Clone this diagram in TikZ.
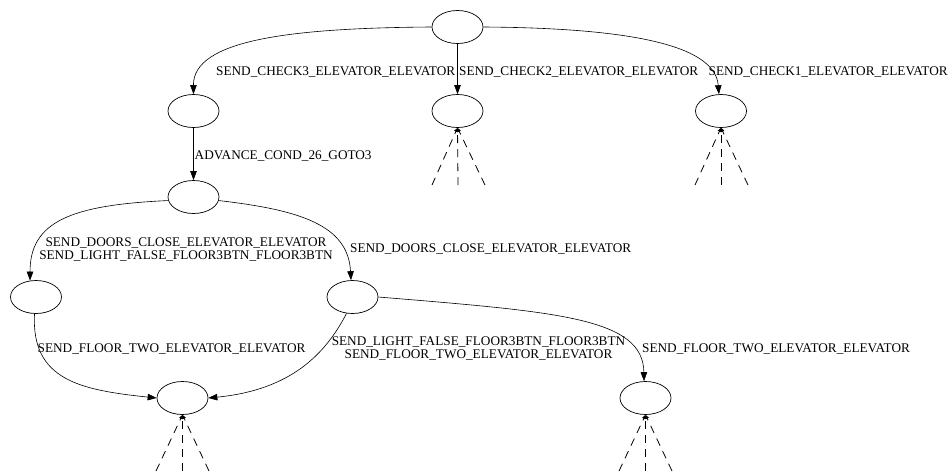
\documentclass[tikz,border=0pt]{standalone}
\usepackage{fontspec}
\setmainfont{Liberation Serif}
\usetikzlibrary{arrows.meta,shapes.geometric}
\begin{document}
\begin{tikzpicture}[x=1pt,y=-1pt,
  state/.style={draw,ellipse,line width=0.7pt,minimum width=51pt,minimum height=33pt,inner sep=0pt},
  edge/.style={line width=0.6pt,-{Triangle[length=9pt,width=6.5pt]}},
  fan/.style={line width=0.8pt,dash pattern=on 8pt off 6pt,-{Triangle[length=4pt,width=3.5pt]}},
  lbl/.style={font=\fontsize{13.25}{13}\selectfont,inner sep=0pt,anchor=base west},
  lblc/.style={font=\fontsize{13.25}{13}\selectfont,inner sep=0pt,anchor=base,align=center}]
\fill[white] (0,0) rectangle (949,471);
\useasboundingbox (0,0) rectangle (949,471);
% states
\node[state] (root) at (457.5,27) {};
\node[state] (A) at (193.5,111) {};
\node[state] (B) at (457.5,111) {};
\node[state] (C) at (721,111) {};
\node[state] (D) at (193.5,197) {};
\node[state] (E) at (36,297) {};
\node[state] (F) at (352.5,297) {};
\node[state] (G) at (182.5,398) {};
\node[state] (H) at (645.5,398) {};
% free ends of the dashed fans
\coordinate (b1) at (432,185); \coordinate (b2) at (458,185); \coordinate (b3) at (485,185);
\coordinate (c1) at (695,185); \coordinate (c2) at (721,185); \coordinate (c3) at (748,185);
\coordinate (g1) at (156,471); \coordinate (g2) at (182.5,471); \coordinate (g3) at (209,471);
\coordinate (h1) at (619,471); \coordinate (h2) at (645.5,471); \coordinate (h3) at (672,471);
% edges
\draw[edge] (root.west) .. controls (290,28) and (193,40) .. (A.north);
\draw[edge] (root) -- (B);
\draw[edge] (root.east) .. controls (630,28) and (715,45) .. (C.97);
\draw[edge] (A) -- (D);
\draw[edge] (D.188) .. controls (70,205) and (30,222) .. (E.110);
\draw[edge] (D.-8) .. controls (300,210) and (348,225) .. (F.95);
\draw[edge] (E.265) .. controls (31,380) and (80,390) .. (G.west);
\draw[edge] (F.250) .. controls (325,355) and (290,390) .. (G.east);
\draw[edge] (F.east) .. controls (560,312) and (643,318) .. (H.95);
% dashed fans
\draw[fan] (b1) -- (B.south); \draw[fan] (b2) -- (B.south); \draw[fan] (b3) -- (B.south);
\draw[fan] (c1) -- (C.south); \draw[fan] (c2) -- (C.south); \draw[fan] (c3) -- (C.south);
\draw[fan] (g1) -- (G.south); \draw[fan] (g2) -- (G.south); \draw[fan] (g3) -- (G.south);
\draw[fan] (h1) -- (H.south); \draw[fan] (h2) -- (H.south); \draw[fan] (h3) -- (H.south);
% labels
\node[lbl] (l1) at (216,75) {SEND\_CHECK3\_ELEVATOR\_ELEVATOR};
\node[lbl] (l2) at (459,75) {SEND\_CHECK2\_ELEVATOR\_ELEVATOR};
\node[lbl] (l3) at (708.5,75) {SEND\_CHECK1\_ELEVATOR\_ELEVATOR};
\node[lbl] (l4) at (194.5,159) {ADVANCE\_COND\_26\_GOTO3};
\node[lblc] (l5) at (186,259) {SEND\_DOORS\_CLOSE\_ELEVATOR\_ELEVATOR\\SEND\_LIGHT\_FALSE\_FLOOR3BTN\_FLOOR3BTN};
\node[lbl] (l6) at (350,252) {SEND\_DOORS\_CLOSE\_ELEVATOR\_ELEVATOR};
\node[lbl] (l7) at (37.5,352) {SEND\_FLOOR\_TWO\_ELEVATOR\_ELEVATOR};
\node[lblc] (l8) at (478.5,358.5) {SEND\_LIGHT\_FALSE\_FLOOR3BTN\_FLOOR3BTN\\SEND\_FLOOR\_TWO\_ELEVATOR\_ELEVATOR};
\node[lbl] (l9) at (642,352) {SEND\_FLOOR\_TWO\_ELEVATOR\_ELEVATOR};
\end{tikzpicture}
\end{document}
